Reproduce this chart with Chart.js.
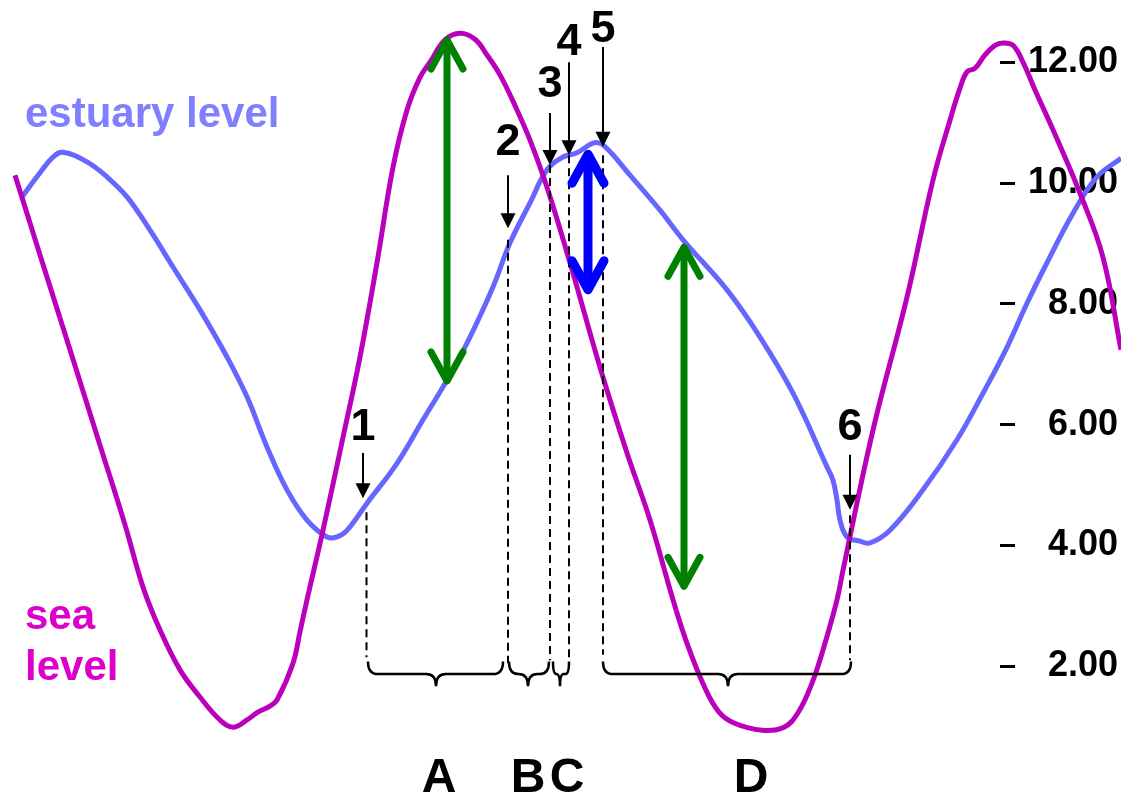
<!DOCTYPE html>
<html>
<head>
<meta charset="utf-8">
<script src="https://cdn.jsdelivr.net/npm/chart.js@4.4.0/dist/chart.umd.min.js"></script>
<style>
html,body{margin:0;padding:0;background:#fff;}
#wrap{width:1121px;height:795px;position:relative;}
</style>
</head>
<body>
<div id="wrap"><canvas id="c"></canvas></div>
<script>
// ---- data ----
const seaX = [15,40,70,100,125,143,160,180,200,220,233,247,257,270,277,293,300,307,323,343,360,377,393,407,420,430,445,460,475,487,500,517,530,547,570,600,627,650,673,687,705,719,734,762,784,798,812,823,837,843,873,907,933,950,960,967,975,985,995,1003,1013,1023,1035,1053,1080,1103,1121];
const seaLevel = [10.13,8.81,7.24,5.66,4.34,3.31,2.60,1.94,1.49,1.11,0.99,1.11,1.23,1.34,1.44,2.05,2.57,3.10,4.25,5.79,7.12,8.68,10.26,11.21,11.75,12.00,12.37,12.48,12.38,12.12,11.79,11.21,10.71,9.93,8.68,6.95,5.53,4.42,3.10,2.38,1.64,1.24,1.06,0.94,0.99,1.23,1.72,2.27,3.10,3.59,5.91,8.11,10.05,11.04,11.57,11.84,11.90,12.12,12.28,12.32,12.28,12.00,11.54,10.88,9.83,8.77,7.24];
const estX = [22,40,53,63,87,107,127,150,173,200,227,247,267,287,307,327,337,347,367,397,423,447,467,493,510,530,547,563,577,593,603,630,660,683,727,760,793,827,833,837,840,847,860,870,890,923,957,983,1007,1027,1047,1073,1097,1121];
const estuaryLevel = [9.77,10.17,10.43,10.51,10.35,10.10,9.77,9.22,8.61,7.90,7.12,6.46,5.63,4.92,4.42,4.14,4.14,4.25,4.70,5.36,6.08,6.74,7.35,8.28,9.01,9.67,10.22,10.43,10.50,10.66,10.63,10.13,9.55,9.06,8.23,7.45,6.52,5.30,5.08,4.75,4.42,4.14,4.07,4.04,4.25,4.92,5.75,6.52,7.28,8.01,8.68,9.50,10.10,10.41];
const yTicks = [2,4,6,8,10,12];

// event markers 1..6 (time, levels)
const eventLabels = ['1','2','3','4','5','6'];
const eventTime = [365,508,550,569,603,850];
const eventLabelLevel = [5.99,10.70,11.67,12.35,12.57,5.98];
const eventArrowFrom = [5.53,10.13,11.16,12.00,12.25,5.50];
const eventArrowTo = [4.78,9.25,10.30,10.46,10.60,4.59];
const eventDashFrom = [4.55,9.06,10.30,10.46,10.46,4.50];
const eventDashTo = [2.15,2.05,2.10,1.99,2.19,2.10];

// phases A..D (brace start, end, middle)
const phaseLabels = ['A','B','C','D'];
const phaseStart = [368,509,553,603];
const phaseEnd = [503,549,569,851];
const phaseMid = [436,528,560,728];
const phaseLabelTime = [439,528,567,751];

// range arrows (time, from level, to level)
const rangeTime = [447,684,588];
const rangeTop = [12.40,8.97,10.51];
const rangeBottom = [6.69,3.29,8.20];

const FONT = "'Liberation Sans', Arial, Helvetica, sans-serif";

const annot = {
  id: 'annot',
  afterLayout(chart) {
    // pull right-aligned tick labels slightly in from the canvas edge
    chart.scales.y.right = chart.scales.y.right - 3;
  },
  afterDatasetsDraw(chart) {
    const {ctx, scales: {x, y}} = chart;
    const X = v => x.getPixelForValue(v), Y = v => y.getPixelForValue(v);
    ctx.save();
    // dashed guides
    ctx.strokeStyle = '#000'; ctx.lineWidth = 2; ctx.setLineDash([8,5]);
    eventTime.forEach((t,i) => {
      ctx.beginPath();
      ctx.moveTo(X(t)+ (i===0?1.5:0), Y(eventDashFrom[i]));
      ctx.lineTo(X(t)+ (i===0?1.5:0), Y(eventDashTo[i]));
      ctx.stroke();
    });
    ctx.setLineDash([]);
    // small arrows and numbers
    eventTime.forEach((t,i) => {
      const px = X(t) - (i===0?2:0), y0 = Y(eventArrowFrom[i]), y1 = Y(eventArrowTo[i]);
      ctx.strokeStyle = '#000'; ctx.fillStyle = '#000'; ctx.lineWidth = 2;
      ctx.beginPath(); ctx.moveTo(px, y0); ctx.lineTo(px, y1 - 12); ctx.stroke();
      ctx.beginPath(); ctx.moveTo(px - 7.5, y1 - 15); ctx.lineTo(px + 7.5, y1 - 15); ctx.lineTo(px, y1); ctx.closePath(); ctx.fill();
      ctx.font = 'bold 45px ' + FONT; ctx.textAlign = 'center'; ctx.textBaseline = 'middle';
      ctx.fillText(eventLabels[i], px, Y(eventLabelLevel[i]) + 2);
    });
    // braces
    const yTop = Y(2.08), yMid = Y(1.87), yTip = Y(1.67);
    ctx.strokeStyle = '#000'; ctx.lineWidth = 2.5; ctx.lineJoin = 'round';
    phaseStart.forEach((s,i) => {
      const x1 = X(s), x2 = X(phaseEnd[i]), xm = X(phaseMid[i]);
      const r = Math.min(10, (xm - x1) / 2, (x2 - xm) / 2);
      ctx.beginPath();
      ctx.moveTo(x1, yTop);
      ctx.quadraticCurveTo(x1, yMid, x1 + r, yMid);
      ctx.lineTo(xm - r, yMid);
      ctx.quadraticCurveTo(xm, yMid, xm, yTip);
      ctx.moveTo(xm, yTip);
      ctx.quadraticCurveTo(xm, yMid, xm + r, yMid);
      ctx.lineTo(x2 - r, yMid);
      ctx.quadraticCurveTo(x2, yMid, x2, yTop);
      ctx.stroke();
    });
    // phase letters
    ctx.fillStyle = '#000'; ctx.font = 'bold 48px ' + FONT; ctx.textAlign = 'center'; ctx.textBaseline = 'alphabetic';
    phaseLabels.forEach((l,i) => ctx.fillText(l, X(phaseLabelTime[i]), Y(0.21) + 18));
    // range arrows
    const cols = ['#008000','#008000','#0000FF'];
    const widths = [7,7,9];
    rangeTime.forEach((t,i) => {
      const px = X(t), a = Y(rangeTop[i]), b = Y(rangeBottom[i]);
      ctx.strokeStyle = cols[i]; ctx.lineWidth = widths[i]; ctx.lineCap = 'round'; ctx.lineJoin = 'round';
      ctx.beginPath(); ctx.moveTo(px, a + 3); ctx.lineTo(px, b - 3); ctx.stroke();
      const hw = 16, hl = 31;
      ctx.beginPath(); ctx.moveTo(px - hw, a + hl); ctx.lineTo(px, a + 2); ctx.lineTo(px + hw, a + hl); ctx.stroke();
      ctx.beginPath(); ctx.moveTo(px - hw, b - hl); ctx.lineTo(px, b - 2); ctx.lineTo(px + hw, b - hl); ctx.stroke();
    });
    // series labels
    ctx.textAlign = 'left'; ctx.textBaseline = 'alphabetic'; ctx.font = 'bold 42px ' + FONT;
    ctx.fillStyle = '#8080FF';
    ctx.fillText('estuary level', X(25), Y(10.93));
    ctx.fillStyle = '#DD00CC';
    ctx.fillText('sea', X(25), Y(2.62));
    ctx.fillText('level', X(25), Y(1.77));
    ctx.restore();
  }
};

new Chart(document.getElementById('c'), {
  type: 'line',
  data: {
    datasets: [
      {
        label: 'sea level',
        data: seaX.map((t,i) => ({x: t, y: seaLevel[i]})),
        borderColor: '#BB00BB', borderWidth: 5, pointRadius: 0,
        tension: 0.4, clip: false, fill: false
      },
      {
        label: 'estuary level',
        data: estX.map((t,i) => ({x: t, y: estuaryLevel[i]})),
        borderColor: '#6666FF', borderWidth: 5, pointRadius: 0,
        tension: 0.4, clip: false, fill: false
      }
    ]
  },
  options: {
    responsive: true,
    maintainAspectRatio: false,
    animation: false,
    devicePixelRatio: 1,
    layout: {padding: 0},
    plugins: {legend: {display: false}, tooltip: {enabled: false}},
    scales: {
      x: {
        type: 'linear', display: false, bounds: 'data',
        afterDataLimits: s => { s.min = 0; s.max = 1000; }
      },
      y: {
        type: 'linear', position: 'right', bounds: 'data',
        min: -0.132, max: 13.03,
        afterBuildTicks: s => { s.ticks = yTicks.map(v => ({value: v})); },
        afterFit: s => { s.width = 121; s.paddingTop = 0; s.paddingBottom = 0; },
        border: {display: false},
        grid: {drawOnChartArea: false, drawTicks: true, tickLength: 15, tickWidth: 3, tickColor: '#000'},
        ticks: {
          color: '#000', padding: 9, crossAlign: 'far',
          font: {family: FONT, size: 36, weight: 'bold'},
          callback: v => Number(v).toFixed(2)
        }
      }
    }
  },
  plugins: [annot]
});
</script>
</body>
</html>
